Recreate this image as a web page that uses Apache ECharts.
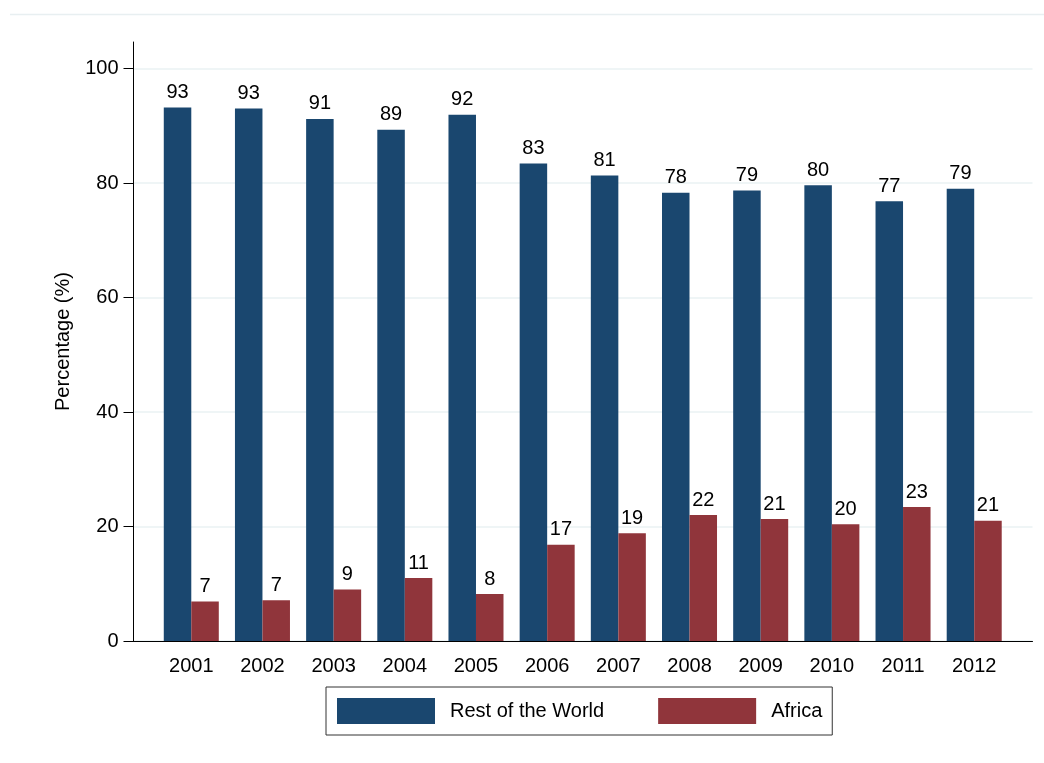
<!DOCTYPE html>
<html>
<head>
<meta charset="utf-8">
<script src="https://cdn.jsdelivr.net/npm/echarts@6/dist/echarts.min.js"></script>
<style>
  html, body { margin: 0; padding: 0; background: #fff; }
  #main { width: 1044px; height: 763px; }
</style>
</head>
<body>
<div id="main"></div>
<script>
var years = ['2001', '2002', '2003', '2004', '2005', '2006', '2007', '2008', '2009', '2010', '2011', '2012'];
var restOfWorld = [93.2, 93.0, 91.2, 89.3, 91.9, 83.4, 81.3, 78.3, 78.7, 79.6, 76.8, 79.0];
var africa = [6.9, 7.1, 9.0, 11.0, 8.2, 16.8, 18.8, 22.0, 21.3, 20.4, 23.4, 21.0];
var yTicks = [0, 20, 40, 60, 80, 100];

var font = 'Liberation Sans, Arial, sans-serif';
var fs = 20;
var chart = echarts.init(document.getElementById('main'), null, { renderer: 'canvas' });

var labelStyle = {
  show: true,
  position: 'top',
  distance: 5,
  color: '#000',
  fontSize: fs,
  fontFamily: font,
  formatter: function (p) { return Math.round(p.value); }
};

var option = {
  backgroundColor: '#fff',
  animation: false,
  graphic: [{
    type: 'line',
    shape: { x1: 10, y1: 14.5, x2: 1044, y2: 14.5 },
    style: { stroke: '#e8eff1', lineWidth: 1.5 },
    silent: true
  }],
  grid: [
    // scale, tick labels, grid lines
    { left: 133.5, right: 11.5, top: 68.5, bottom: 122 },
    // full plot region (axis line up to top)
    { left: 133.5, right: 11.5, top: 42, bottom: 122 },
    // bars
    { left: 155.7, right: 34.2, top: 68.5, bottom: 122 }
  ],
  legend: {
    data: ['Rest of the World', 'Africa'],
    left: 326,
    top: 687,
    orient: 'horizontal',
    padding: [11, 10, 11, 11],
    borderColor: '#333',
    borderWidth: 1,
    itemWidth: 98,
    itemHeight: 26,
    itemGap: 54,
    icon: 'rect',
    textStyle: { fontSize: fs, fontFamily: font, color: '#000', padding: [8, 0, 0, 10] }
  },
  xAxis: [
    {
      gridIndex: 0, type: 'value', min: 0, max: 1,
      axisLine: { show: true, lineStyle: { color: '#000', width: 1 } },
      axisTick: { show: false }, axisLabel: { show: false }, splitLine: { show: false }
    },
    { gridIndex: 1, type: 'value', min: 0, max: 1, show: false },
    {
      gridIndex: 2, type: 'category', data: years,
      axisLine: { show: false }, axisTick: { show: false }, splitLine: { show: false },
      axisLabel: { color: '#000', fontSize: fs, fontFamily: font, margin: 15 }
    }
  ],
  yAxis: [
    {
      gridIndex: 0, type: 'value', min: 0, max: 100, interval: 20,
      axisLine: { show: true, lineStyle: { color: '#000', width: 1 } },
      axisTick: { show: true, length: 10, lineStyle: { color: '#000' } },
      axisLabel: {
        color: '#000', fontSize: fs, fontFamily: font, margin: 15,
        formatter: function (v) { return yTicks.indexOf(v) >= 0 ? String(v) : ''; }
      },
      splitLine: { show: true, lineStyle: { color: '#eaf2f3', width: 1.5 } }
    },
    {
      gridIndex: 1, type: 'value', min: 0, max: 1,
      name: 'Percentage (%)', nameLocation: 'middle', nameGap: 60,
      nameTextStyle: { color: '#000', fontSize: fs, fontFamily: font },
      axisLine: { show: true, lineStyle: { color: '#000', width: 1 } },
      axisTick: { show: false }, axisLabel: { show: false }, splitLine: { show: false }
    },
    { gridIndex: 2, type: 'value', min: 0, max: 100, show: false }
  ],
  series: [
    {
      name: 'Rest of the World', type: 'bar', xAxisIndex: 2, yAxisIndex: 2,
      data: restOfWorld, barGap: 0, barCategoryGap: '22.7%',
      itemStyle: { color: '#1a476f' },
      label: labelStyle
    },
    {
      name: 'Africa', type: 'bar', xAxisIndex: 2, yAxisIndex: 2,
      data: africa, barGap: 0, barCategoryGap: '22.7%',
      itemStyle: { color: '#90353b' },
      label: labelStyle
    }
  ]
};

chart.setOption(option);
</script>
</body>
</html>
